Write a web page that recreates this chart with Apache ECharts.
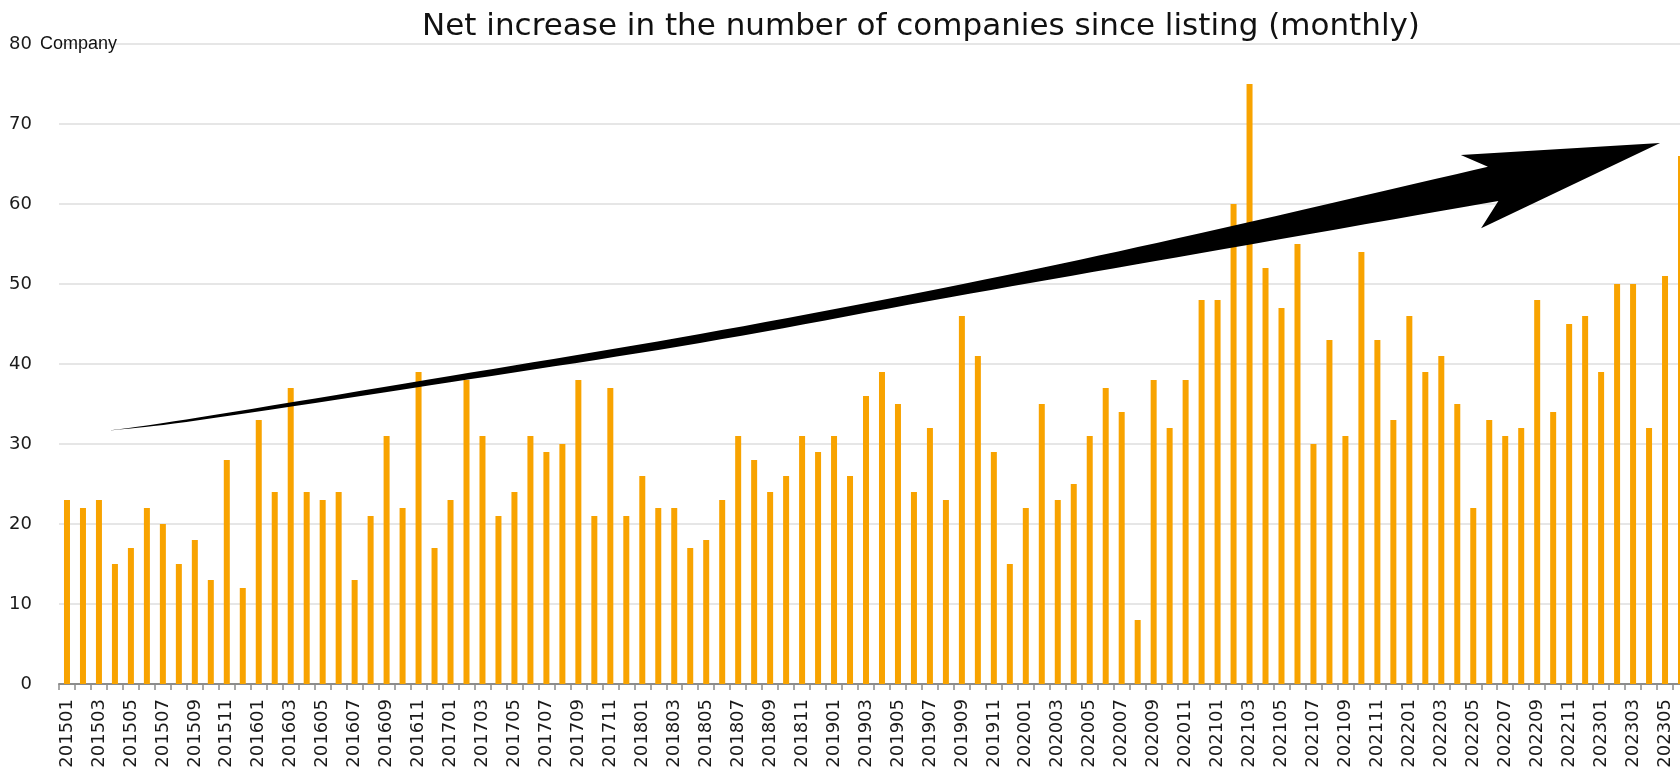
<!DOCTYPE html>
<html>
<head>
<meta charset="utf-8">
<title>Net increase in the number of companies since listing (monthly)</title>
<script src="https://cdn.jsdelivr.net/npm/echarts@6/dist/echarts.min.js"></script>
<style>
  html, body { margin: 0; padding: 0; background: #ffffff; }
  #chart { width: 1680px; height: 769px; }
</style>
</head>
<body>
<div id="chart"></div>
<script>
// Months from 2015-01 to 2023-06 (YYYYMM)
const months = [];
for (let y = 2015; y <= 2023; y++) {
  for (let m = 1; m <= 12; m++) {
    if (y === 2023 && m > 6) break;
    months.push(String(y) + (m < 10 ? '0' : '') + m);
  }
}

// Net increase in listed companies, per month
const netIncrease2015 = [23, 22, 23, 15, 17, 22, 20, 15, 18, 13, 28, 12];
const netIncrease2016 = [33, 24, 37, 24, 23, 24, 13, 21, 31, 22, 39, 17];
const netIncrease2017 = [23, 38, 31, 21, 24, 31, 29, 30, 38, 21, 37, 21];
const netIncrease2018 = [26, 22, 22, 17, 18, 23, 31, 28, 24, 26, 31, 29];
const netIncrease2019 = [31, 26, 36, 39, 35, 24, 32, 23, 46, 41, 29, 15];
const netIncrease2020 = [22, 35, 23, 25, 31, 37, 34, 8, 38, 32, 38, 48];
const netIncrease2021 = [48, 60, 75, 52, 47, 55, 30, 43, 31, 54, 43, 33];
const netIncrease2022 = [46, 39, 41, 35, 22, 33, 31, 32, 48, 34, 45, 46];
const netIncrease2023 = [39, 50, 50, 32, 51, 66];

const netIncrease = [].concat(
  netIncrease2015, netIncrease2016, netIncrease2017, netIncrease2018,
  netIncrease2019, netIncrease2020, netIncrease2021, netIncrease2022,
  netIncrease2023
);

// Value axis ticks
const yTicks = [0, 10, 20, 30, 40, 50, 60, 70, 80];

// Trend arrow in data space: [month index, companies]
const arrowUpperEdge = [
  [2.44, 31.63], [8.32, 33.34], [23.97, 38.5], [39.61, 43.75],
  [56.07, 50.0], [70.90, 56.34], [88.92, 64.66]
];
const arrowHead = [[87.22, 66.13], [99.69, 67.63], [88.49, 56.96]];
const arrowLowerEdge = [
  [89.57, 60.38], [70.90, 53.84], [55.26, 48.34], [39.61, 42.63],
  [23.97, 37.71], [8.32, 33.0], [2.44, 31.63]
];

const FONT = '"DejaVu Sans", Verdana, sans-serif';

const chart = echarts.init(document.getElementById('chart'), null, { renderer: 'canvas' });

const option = {
  backgroundColor: '#ffffff',
  animation: false,
  grid: {
    left: 59,
    top: 44,
    width: 1630,
    height: 640,
    containLabel: false,
    outerBoundsMode: 'none'
  },
  xAxis: {
    type: 'category',
    data: months,
    boundaryGap: true,
    axisLine: { show: true, lineStyle: { color: '#8c8c8c', width: 2 } },
    axisTick: {
      show: true, interval: 0, length: 6,
      lineStyle: { color: '#8c8c8c', width: 1.5 }
    },
    axisLabel: {
      interval: 1,
      rotate: 90,
      margin: 15,
      color: '#1a1a1a',
      fontFamily: FONT,
      fontSize: 18
    },
    splitLine: { show: false }
  },
  yAxis: {
    type: 'value',
    min: yTicks[0],
    max: yTicks[yTicks.length - 1],
    interval: yTicks[1] - yTicks[0],
    axisLine: { show: false },
    axisTick: { show: false },
    axisLabel: {
      margin: 27,
      color: '#1a1a1a',
      fontFamily: FONT,
      fontSize: 18
    },
    splitLine: { show: true, lineStyle: { color: '#e6e6e6', width: 2 } }
  },
  series: [{
    name: 'Net increase',
    type: 'bar',
    data: netIncrease,
    barWidth: 6,
    itemStyle: { color: '#F8A300' }
  }]
};

chart.setOption(option);

// Convert arrow points into pixels through the chart's own axes
const origin = chart.convertToPixel({ gridIndex: 0 }, [0, 0]);
const unit = chart.convertToPixel({ gridIndex: 0 }, [1, 10]);
function toPixel(pt) {
  return [
    origin[0] + pt[0] * (unit[0] - origin[0]),
    origin[1] + pt[1] * (unit[1] - origin[1]) / 10
  ];
}

// Smooth an edge with a Catmull-Rom curve so the shaft bends gently
function smoothEdge(pts, steps) {
  const out = [];
  for (let i = 0; i < pts.length - 1; i++) {
    const p0 = pts[Math.max(i - 1, 0)];
    const p1 = pts[i];
    const p2 = pts[i + 1];
    const p3 = pts[Math.min(i + 2, pts.length - 1)];
    for (let s = 0; s < steps; s++) {
      const t = s / steps, t2 = t * t, t3 = t2 * t;
      const f = (a, b, c, d) => 0.5 * ((2 * b) + (-a + c) * t +
        (2 * a - 5 * b + 4 * c - d) * t2 + (-a + 3 * b - 3 * c + d) * t3);
      out.push([f(p0[0], p1[0], p2[0], p3[0]), f(p0[1], p1[1], p2[1], p3[1])]);
    }
  }
  out.push(pts[pts.length - 1]);
  return out;
}

const arrowPoints = []
  .concat(smoothEdge(arrowUpperEdge.map(toPixel), 12))
  .concat(arrowHead.map(toPixel))
  .concat(smoothEdge(arrowLowerEdge.map(toPixel), 12));

chart.setOption({
  graphic: [
    {
      type: 'polygon',
      z: 100,
      shape: { points: arrowPoints },
      style: { fill: '#000000' }
    },
    {
      type: 'text',
      z: 100,
      x: 921,
      y: 27,
      style: {
        text: 'Net increase in the number of companies since listing (monthly)',
        font: '31px ' + FONT,
        fill: '#111111',
        textAlign: 'center',
        textVerticalAlign: 'middle'
      }
    },
    {
      type: 'text',
      z: 100,
      x: 40,
      y: 44,
      style: {
        text: 'Company',
        font: '18px "Liberation Sans", Arial, sans-serif',
        fill: '#111111',
        textAlign: 'left',
        textVerticalAlign: 'middle'
      }
    }
  ]
});
</script>
</body>
</html>
